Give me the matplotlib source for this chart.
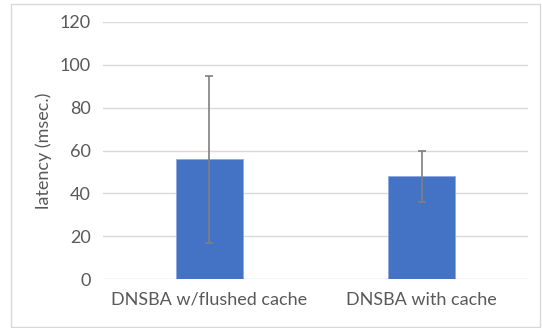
import matplotlib
matplotlib.use("Agg")
import matplotlib.pyplot as plt
from matplotlib.patches import Rectangle

categories = ["DNSBA w/flushed cache", "DNSBA with cache"]
latency = [56, 48]
latency_err = [39, 12]

plt.rcParams["font.family"] = ["Lato", "DejaVu Sans"]

fig = plt.figure(figsize=(5.42, 3.28), dpi=100)
ax = fig.add_axes([0.190, 0.149, 0.784, 0.784])

x = range(len(categories))
ax.bar(x, latency, width=0.315, color="#4472C4", edgecolor="#8faadc",
       linewidth=0.6, zorder=3)
ax.errorbar(x, latency, yerr=latency_err, fmt="none", ecolor="#7f7f7f",
            elinewidth=1.2, capsize=3, capthick=1.2, zorder=4)

ax.set_xlim(-0.5, 1.5)
ax.set_ylim(0, 120)
ax.set_yticks(range(0, 121, 20))
ax.set_xticks(list(x))
ax.set_xticklabels(categories)
ax.grid(axis="y", color="#d9d9d9", linewidth=1, zorder=0)
for s in ax.spines.values():
    s.set_visible(False)
ax.tick_params(length=0, labelsize=13, colors="#595959", pad=9)
ax.tick_params(axis="x", pad=9)
ax.set_ylabel("latency (msec.)", fontsize=13, color="#595959", labelpad=5)

fig.patches.append(Rectangle((11 / 542, 0.003), 529 / 542, 1 - 4 / 328 - 0.003,
                             transform=fig.transFigure, fill=False,
                             edgecolor="#d9d9d9", linewidth=1))

fig.savefig("out.png", dpi=100)
